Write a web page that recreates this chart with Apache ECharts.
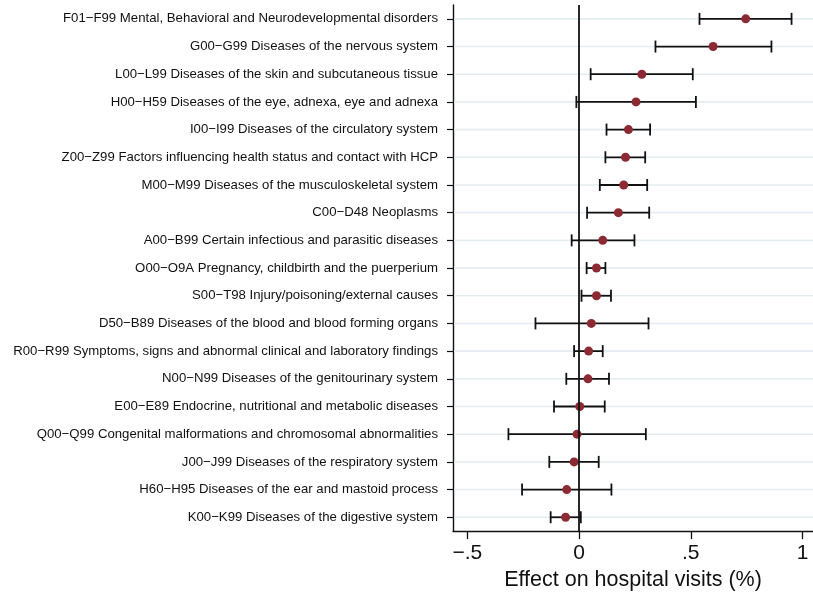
<!DOCTYPE html>
<html>
<head>
<meta charset="utf-8">
<title>Effect on hospital visits by diagnosis chapter</title>
<script src="https://cdn.jsdelivr.net/npm/echarts@6/dist/echarts.min.js"></script>
<style>
  html, body { margin: 0; padding: 0; background: #ffffff; }
  #chart { width: 813px; height: 596px; }
</style>
</head>
<body>
<div id="chart"></div>
<script>
// Diagnosis chapters, top to bottom
const categories = [
  'F01\u2212F99 Mental, Behavioral and Neurodevelopmental disorders',
  'G00\u2212G99 Diseases of the nervous system',
  'L00\u2212L99 Diseases of the skin and subcutaneous tissue',
  'H00\u2212H59 Diseases of the eye, adnexa, eye and adnexa',
  'I00\u2212I99 Diseases of the circulatory system',
  'Z00\u2212Z99 Factors influencing health status and contact with HCP',
  'M00\u2212M99 Diseases of the musculoskeletal system',
  'C00\u2212D48 Neoplasms',
  'A00\u2212B99 Certain infectious and parasitic diseases',
  'O00\u2212O9A Pregnancy, childbirth and the puerperium',
  'S00\u2212T98 Injury/poisoning/external causes',
  'D50\u2212B89 Diseases of the blood and blood forming organs',
  'R00\u2212R99 Symptoms, signs and abnormal clinical and laboratory findings',
  'N00\u2212N99 Diseases of the genitourinary system',
  'E00\u2212E89 Endocrine, nutritional and metabolic diseases',
  'Q00\u2212Q99 Congenital malformations and chromosomal abnormalities',
  'J00\u2212J99 Diseases of the respiratory system',
  'H60\u2212H95 Diseases of the ear and mastoid process',
  'K00\u2212K99 Diseases of the digestive system'
];

// Point estimates and 95% confidence bounds (%)
const estimates = [0.746, 0.600, 0.281, 0.255, 0.221, 0.208, 0.200, 0.176, 0.106, 0.078,
                   0.078, 0.055, 0.043, 0.040, 0.003, -0.009, -0.022, -0.055, -0.060];
const ciLower   = [0.539, 0.342, 0.052, -0.012, 0.123, 0.118, 0.093, 0.036, -0.033, 0.034,
                   0.011, -0.195, -0.022, -0.057, -0.112, -0.316, -0.133, -0.255, -0.127];
const ciUpper   = [0.951, 0.861, 0.509, 0.523, 0.318, 0.296, 0.305, 0.314, 0.248, 0.118,
                   0.143, 0.311, 0.106, 0.134, 0.115, 0.299, 0.088, 0.145, 0.008];

// Horizontal axis ticks
const xTicks = [-0.5, 0, 0.5, 1];

const FONT = "'Liberation Sans', Arial, Helvetica, sans-serif";
const MARKER = '#8c2a33';
const GRID_LINE = '#e4eef1';

const fmtTick = v => {
  if (v === 0) return '0';
  const s = String(Math.abs(v)).replace(/^0\./, '.');
  return (v < 0 ? '\u2212' : '') + s;
};

const rows = categories.map((c, i) => [i, ciLower[i], ciUpper[i]]);
const points = categories.map((c, i) => [estimates[i], i]);

const chart = echarts.init(document.getElementById('chart'), null, { renderer: 'canvas' });

chart.setOption({
  animation: false,
  backgroundColor: '#ffffff',
  grid: { left: 453, right: 0, top: 5, bottom: 62, containLabel: false },
  xAxis: {
    type: 'value',
    min: -0.564,
    max: 1.047,
    name: 'Effect on hospital visits (%)',
    nameLocation: 'middle',
    nameGap: 35,
    nameTextStyle: { fontFamily: FONT, fontSize: 21.5, color: '#111', verticalAlign: 'top' },
    axisLine: { show: true, onZero: false, lineStyle: { color: '#111', width: 1.4 } },
    axisTick: { show: true, customValues: xTicks, length: 8, lineStyle: { color: '#111', width: 1.3 } },
    axisLabel: { customValues: xTicks, formatter: fmtTick, fontFamily: FONT, fontSize: 21, color: '#111', margin: 12 },
    splitLine: { show: false }
  },
  yAxis: {
    type: 'category',
    data: categories,
    inverse: true,
    axisLine: { show: true, onZero: false, lineStyle: { color: '#111', width: 1.4 } },
    axisTick: { show: true, alignWithLabel: true, length: 6, lineStyle: { color: '#111', width: 1.2 } },
    axisLabel: { fontFamily: FONT, fontSize: 13.2, color: '#111', margin: 15 },
    splitLine: { show: false }
  },
  series: [
    {
      // light horizontal guide line at each row
      type: 'custom',
      z: 1,
      silent: true,
      data: rows,
      encode: { y: 0 },
      renderItem: (params, api) => {
        const cs = params.coordSys;
        const y = api.coord([0, api.value(0)])[1];
        return {
          type: 'line',
          shape: { x1: cs.x + 1, y1: y, x2: cs.x + cs.width, y2: y },
          style: { stroke: GRID_LINE, lineWidth: 1.6 }
        };
      }
    },
    {
      // reference line at zero effect
      type: 'scatter',
      z: 2,
      data: [],
      silent: true,
      markLine: {
        silent: true,
        symbol: 'none',
        label: { show: false },
        lineStyle: { color: '#111', width: 1.8, type: 'solid' },
        data: [{ xAxis: 0 }]
      }
    },
    {
      // confidence interval bars with end caps
      type: 'custom',
      z: 3,
      data: rows,
      encode: { x: [1, 2], y: 0 },
      renderItem: (params, api) => {
        const cat = api.value(0);
        const lo = api.coord([api.value(1), cat]);
        const hi = api.coord([api.value(2), cat]);
        const cap = 6;
        const st = { stroke: '#111', lineWidth: 1.8 };
        return {
          type: 'group',
          children: [
            { type: 'line', shape: { x1: lo[0], y1: lo[1], x2: hi[0], y2: hi[1] }, style: st },
            { type: 'line', shape: { x1: lo[0], y1: lo[1] - cap, x2: lo[0], y2: lo[1] + cap }, style: st },
            { type: 'line', shape: { x1: hi[0], y1: hi[1] - cap, x2: hi[0], y2: hi[1] + cap }, style: st }
          ]
        };
      }
    },
    {
      // point estimates
      type: 'scatter',
      z: 4,
      data: points,
      symbol: 'circle',
      symbolSize: 9,
      itemStyle: { color: MARKER, opacity: 1 }
    }
  ]
});
</script>
</body>
</html>
